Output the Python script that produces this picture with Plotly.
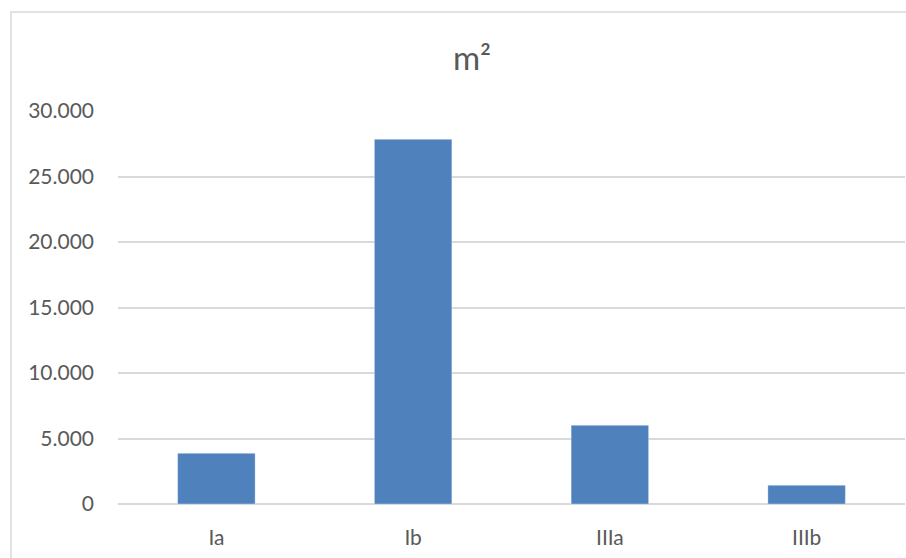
import plotly.graph_objects as go

# Surface area per zone (m²)
categories = ["Ia", "Ib", "IIIa", "IIIb"]
area_m2 = [3870, 27840, 6010, 1430]
y_ticks = [0, 5000, 10000, 15000, 20000, 25000, 30000]

FONT = "Lato, 'Open Sans', sans-serif"
TEXT_GRAY = "#595959"
GRID_GRAY = "#d9d9d9"
BAR_BLUE = "#4f81bd"

fig = go.Figure(
    go.Bar(
        x=categories,
        y=area_m2,
        marker=dict(color=BAR_BLUE, line=dict(color="rgba(255,255,255,0.35)", width=1)),
        hoverinfo="x+y",
    )
)

W, H = 906, 558
m_l, m_r, m_t, m_b = 118, 1, 111, 54
plot_w = W - m_l - m_r
plot_h = H - m_t - m_b

# Chart-area frame (top and left edges visible, continues past the page)
frame_x0 = (11 - m_l) / plot_w
frame_y1 = (H - m_b - 12) / plot_h

fig.update_layout(
    width=W,
    height=H,
    margin=dict(l=m_l, r=m_r, t=m_t, b=m_b),
    paper_bgcolor="white",
    plot_bgcolor="white",
    separators=",.",
    bargap=0.606,
    showlegend=False,
    font=dict(family=FONT, color=TEXT_GRAY, size=21),
    title=dict(
        text="m²",
        font=dict(family=FONT, size=33, color=TEXT_GRAY),
        x=472 / W,
        xref="container",
        xanchor="center",
        y=1 - 58 / H,
        yref="container",
        yanchor="middle",
    ),
    xaxis=dict(
        showline=False,
        showgrid=False,
        ticks="",
        tickfont=dict(size=21, color=TEXT_GRAY),
        ticklabelstandoff=19,
        fixedrange=True,
    ),
    yaxis=dict(
        range=[0, 30000],
        tickvals=y_ticks,
        tickformat=",.0f",
        showgrid=True,
        gridcolor=GRID_GRAY,
        gridwidth=1.5,
        zeroline=True,
        zerolinecolor=GRID_GRAY,
        zerolinewidth=1.5,
        showline=False,
        ticks="",
        tickfont=dict(size=21, color=TEXT_GRAY),
        ticklabelstandoff=23,
        fixedrange=True,
    ),
    shapes=[
        dict(
            type="rect",
            xref="paper",
            yref="paper",
            x0=frame_x0,
            x1=1.2,
            y0=-0.5,
            y1=frame_y1,
            line=dict(color=GRID_GRAY, width=1.5),
            fillcolor="rgba(0,0,0,0)",
            layer="below",
        )
    ],
)

fig.write_html("out.html", config={"displayModeBar": False})
